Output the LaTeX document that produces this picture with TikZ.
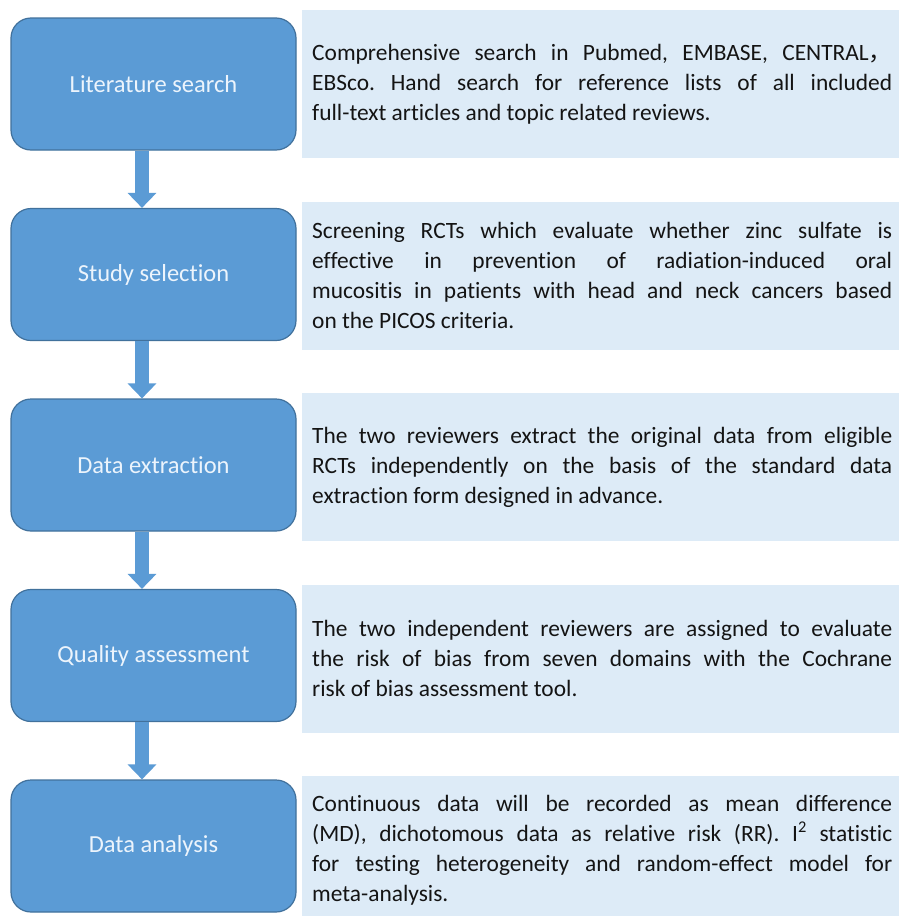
\documentclass[tikz,border=0pt]{standalone}
\usepackage{fontspec}
\setmainfont{Carlito}[Ligatures=NoCommon]
\newfontfamily\cjk{Noto Sans CJK SC}
\usetikzlibrary{arrows.meta}
\definecolor{boxblue}{RGB}{91,155,213}
\definecolor{boxedge}{RGB}{65,113,156}
\definecolor{paleblue}{RGB}{221,235,247}
\definecolor{txt}{RGB}{20,20,20}
\definecolor{stagetxt}{RGB}{236,244,252}
\tikzset{
  stage/.style={draw=boxedge, line width=1.2pt, fill=boxblue, rounded corners=20pt,
    minimum width=285pt, minimum height=132pt, text=stagetxt, inner sep=0pt,
    font=\fontsize{24.5}{30}\selectfont},
  info/.style={fill=paleblue, draw=none, minimum width=600pt, minimum height=148pt,
    text width=580pt, inner xsep=10pt, inner ysep=0pt, align=justify, text=txt,
    font=\fontsize{23.4}{30}\selectfont\frenchspacing, anchor=west},
  flow/.style={draw=boxblue, line width=14pt,
    -{Triangle[width=28pt,length=15pt]}}
}
\begin{document}
\begin{tikzpicture}[x=1pt,y=-1pt]
\useasboundingbox[fill=white] (0,0) rectangle (899,916);
\coordinate (ax) at (142,0);
% right description boxes
\node[info] (r1) at (302,84) {Comprehensive search in Pubmed, EMBASE, CENTRAL{\cjk ，}\linebreak EBSco. Hand search for reference lists of all included\linebreak full-text articles and topic related reviews.};
\node[info] (r2) at (302,275.5) {Screening RCTs which evaluate whether zinc sulfate is\linebreak effective in prevention of radiation-induced oral\linebreak mucositis in patients with head and neck cancers based\linebreak on the PICOS criteria.};
\node[info] (r3) at (302,467) {The two reviewers extract the original data from eligible\linebreak RCTs independently on the basis of the standard data\linebreak extraction form designed in advance.};
\node[info] (r4) at (302,658.5) {The two independent reviewers are assigned to evaluate\linebreak the risk of bias from seven domains with the Cochrane\linebreak risk of bias assessment tool.};
\node[info] (r5) at (302,850) {Continuous data will be recorded as mean difference\linebreak (MD), dichotomous data as relative risk (RR). I\textsuperscript{2} statistic\linebreak for testing heterogeneity and random-effect model for\linebreak meta-analysis.};
% left stage boxes
\node[stage] (l1) at (153.5,84) {Literature search};
\node[stage] (l2) at (153.5,274.5) {Study selection};
\node[stage] (l3) at (153.5,465) {Data extraction};
\node[stage] (l4) at (153.5,655.5) {Quality assessment};
\node[stage] (l5) at (153.5,846) {Data analysis};
% arrows
\draw[flow] (l1.south -| ax) -- (l2.north -| ax);
\draw[flow] (l2.south -| ax) -- (l3.north -| ax);
\draw[flow] (l3.south -| ax) -- (l4.north -| ax);
\draw[flow] (l4.south -| ax) -- (l5.north -| ax);
\end{tikzpicture}
\end{document}
